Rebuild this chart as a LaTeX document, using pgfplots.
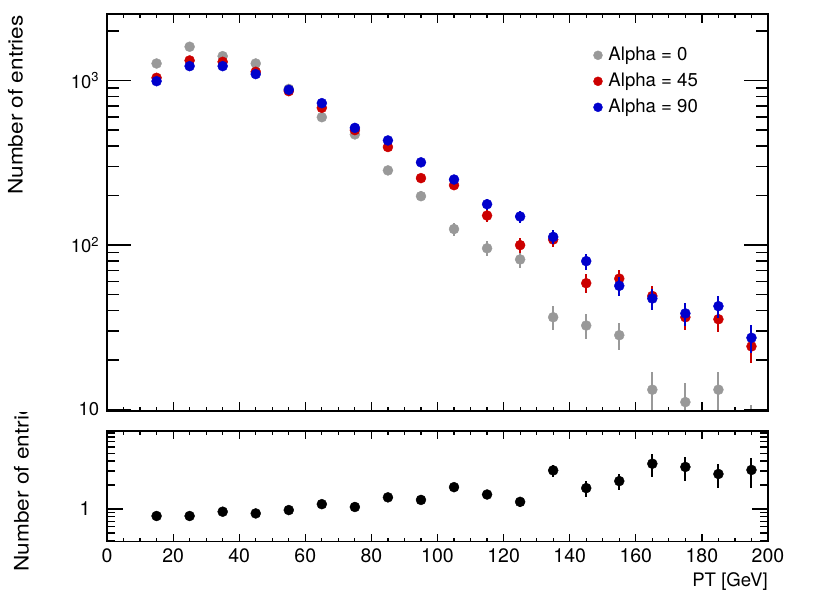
\documentclass[border=0pt]{standalone}
\usepackage{pgfplots}
\pgfplotsset{compat=1.18}
\usepackage{pgfplotstable}
\usepackage{fontspec}
\setmainfont{TeX Gyre Heros}
\usepackage{graphicx}

\definecolor{cgray}{RGB}{153,153,153}
\definecolor{cred}{RGB}{204,0,0}
\definecolor{cblue}{RGB}{0,0,204}

\newcommand{\tl}[1]{{\fontsize{19.5}{19.5}\selectfont #1}}
\newcommand{\tly}[1]{{\fontsize{18.5}{18.5}\selectfont #1}}

\pgfplotstableread{
x y e
15 1268 35.6
25 1603 40.0
35 1405 37.5
45 1268 35.6
55 888 29.8
65 598 24.5
75 470 21.7
85 284 16.9
95 198 14.1
105 125 11.2
115 95.5 9.8
125 81.7 9.0
135 36.4 6.0
145 32.4 5.7
155 28.3 5.3
165 13.2 3.6
175 11.1 3.3
185 13.2 3.6
195 7.8 2.8
}\tgray

\pgfplotstableread{
x y e
15 1038 32.2
25 1323 36.4
35 1298 36.0
45 1129 33.6
55 861 29.3
65 682 26.1
75 499 22.3
85 394 19.8
95 255 16.0
105 231 15.2
115 151 12.3
125 99.8 10.0
135 108 10.4
145 58.6 7.7
155 62.5 7.9
165 49 7.0
175 36.4 6.0
185 35.4 5.9
195 24.2 4.9
}\tred

\pgfplotstableread{
x y e
15 990 31.5
25 1222 35.0
35 1222 35.0
45 1093 33.1
55 877 29.6
65 728 27.0
75 515 22.7
85 432 20.8
95 318 17.8
105 250 15.8
115 177 13.3
125 149 12.2
135 112 10.6
145 79.8 8.9
155 56.5 7.5
165 47.3 6.9
175 38.4 6.2
185 42.5 6.5
195 27.3 5.2
}\tblue

\pgfplotstableread{
x y e
15 0.817 0.034
25 0.817 0.030
35 0.925 0.036
45 0.88 0.036
55 0.97 0.046
65 1.15 0.063
75 1.06 0.068
85 1.40 0.11
95 1.30 0.12
105 1.88 0.20
115 1.52 0.20
125 1.23 0.18
135 3.05 0.50
145 1.83 0.40
155 2.24 0.50
165 3.70 1.15
175 3.37 1.15
185 2.75 0.90
195 3.09 1.25
}\tratio

\pgfplotsset{
  base/.style={scale only axis, width=661pt, xmin=0, xmax=200,
    /pgf/number format/assume math mode=true,
    axis line style={line width=1.4pt},
    every tick/.style={black, line width=1.2pt},
    tick pos=both, tick align=inside, clip marker paths=true,
    label style={font=\fontsize{20}{20}\selectfont}},
  pts/.style={only marks, mark=*, mark size=5pt, color=#1,
    error bars/.cd, y dir=both, y explicit, error mark=none,
    error bar style={line width=2pt, #1}},
}

\begin{document}
\begin{tikzpicture}
\path[use as bounding box] (0,0) rectangle (830pt,596pt);

% top panel: x ticks + data
\begin{axis}[base, at={(107pt,185pt)}, height=397pt,
  ymode=log, ymin=9.8, ymax=2535,
  xtick={0,20,...,200}, minor x tick num=3, xticklabels={},
  ytick=\empty, major tick length=9pt, minor tick length=4.5pt,
  ylabel={\scalebox{1.13}[1]{Number of entries}},
  ylabel style={at={(axis description cs:-0.1275,0.9975)}, anchor=base east, inner sep=0pt},
  legend style={draw=none, fill=none, at={(axis description cs:0.736,0.918)}, anchor=north west,
    inner sep=0pt, outer sep=0pt, font=\fontsize{18.6}{20}\selectfont,
    nodes={inner xsep=6pt, inner ysep=0pt, text height=13.5pt, text depth=4pt}, row sep=8.5pt},
  legend cell align=left,
  legend image post style={mark size=4.5pt},
]
\addplot[pts=cgray] table[x=x,y=y,y error=e]{\tgray};
\addlegendentry{Alpha = 0}
\addplot[pts=cred] table[x=x,y=y,y error=e]{\tred};
\addlegendentry{Alpha = 45}
\addplot[pts=cblue] table[x=x,y=y,y error=e]{\tblue};
\addlegendentry{Alpha = 90}
\end{axis}

% top panel: y ticks
\begin{axis}[base, at={(107pt,185pt)}, height=397pt,
  ymode=log, ymin=9.8, ymax=2535,
  xtick=\empty,
  ytick={10,100,1000},
  minor ytick={20,30,40,50,60,70,80,90,200,300,400,500,600,700,800,900,2000},
  yticklabels={\tly{10},
    \tly{10\textsuperscript{2}}\hspace{9pt},
    \tly{10\textsuperscript{3}}\hspace{9pt}},
  yticklabel style={inner sep=0pt, xshift=-7.7pt},
  major tick length=24pt, minor tick length=12pt,
]
\end{axis}

% bottom panel: x ticks + data
\begin{axis}[base, at={(107pt,54.3pt)}, height=110.7pt,
  ymode=log, ymin=0.389, ymax=9.52,
  xtick={0,20,...,200}, minor x tick num=3,
  xticklabel={\tl{\pgfmathprintnumber{\tick}}},
  xticklabel style={inner sep=0pt, yshift=-6.3pt},
  ytick=\empty, major tick length=8pt, minor tick length=4pt,
  xlabel={PT [GeV]},
  xlabel style={at={(axis description cs:1,-0.4065)}, anchor=base east, inner sep=0pt,
    font=\fontsize{18.6}{20}\selectfont},
]
\addplot[pts=black] table[x=x,y=y,y error=e]{\tratio};
\end{axis}

% bottom panel: y ticks
\begin{axis}[base, at={(107pt,54.3pt)}, height=110.7pt,
  ymode=log, ymin=0.389, ymax=9.52,
  xtick=\empty,
  ytick={1}, minor ytick={0.4,0.5,0.6,0.7,0.8,0.9,2,3,4,5,6,7,8,9},
  yticklabels={\tl{1}},
  yticklabel style={inner sep=0pt, xshift=-16.3pt},
  major tick length=15.7pt, minor tick length=8pt,
]
\end{axis}

% bottom panel y title (clipped at the pad top, as in the reference)
\begin{scope}
\clip (0pt,24pt) rectangle (100pt,183pt);
\node[rotate=90, anchor=base west, inner sep=0pt, font=\fontsize{20}{20}\selectfont]
  at (28.7pt,24.3pt) {\scalebox{1.13}[1]{Number of entries}};
\end{scope}
\end{tikzpicture}
\end{document}
